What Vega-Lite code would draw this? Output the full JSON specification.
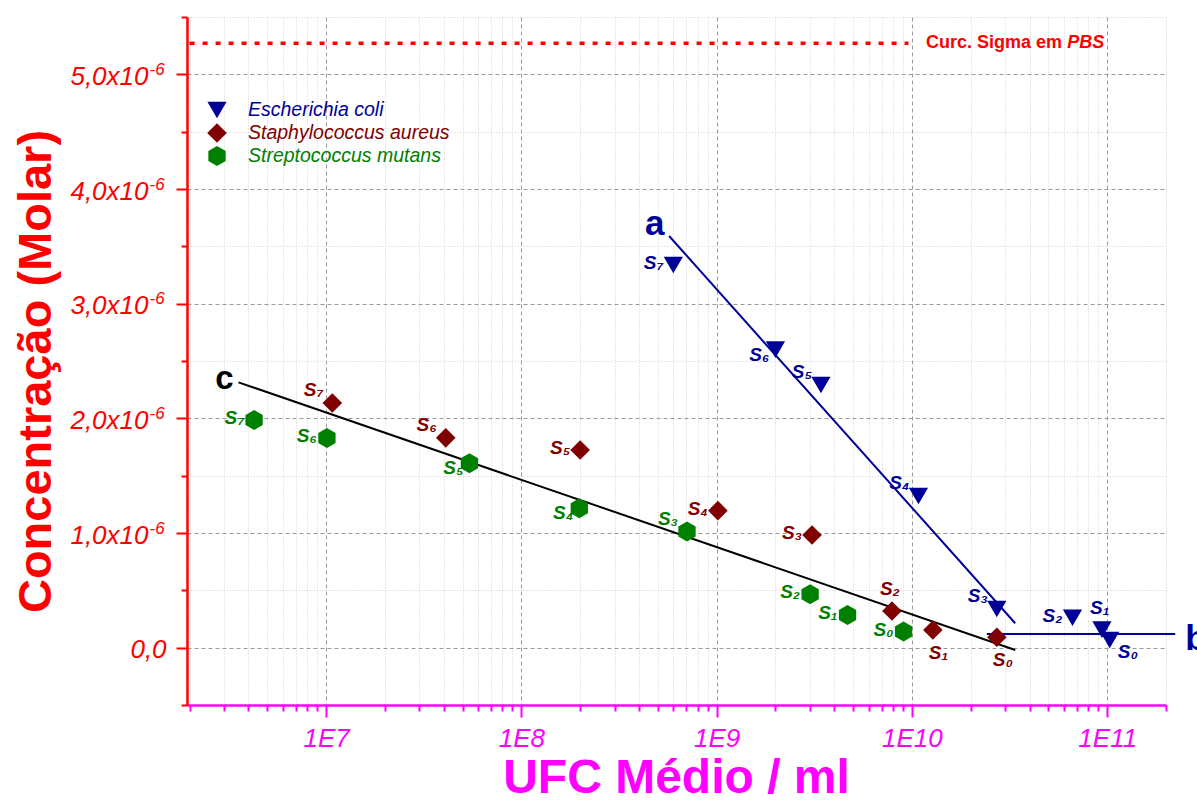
{
  "$schema": "https://vega.github.io/schema/vega-lite/v6.json",
  "width": 979,
  "height": 688,
  "autosize": {"type": "none"},
  "padding": {"left": 187, "top": 17, "right": 31, "bottom": 96},
  "background": "#ffffff",
  "config": {"view": {"stroke": null}, "font": "Liberation Sans"},
  "datasets": {
    "points": [
      {"species": "Escherichia coli", "sample": "S0", "ufc": 1.03e11, "conc": 6.7e-8},
      {"species": "Escherichia coli", "sample": "S1", "ufc": 9.4e10, "conc": 1.57e-7},
      {"species": "Escherichia coli", "sample": "S2", "ufc": 6.64e10, "conc": 2.61e-7},
      {"species": "Escherichia coli", "sample": "S3", "ufc": 2.72e10, "conc": 3.37e-7},
      {"species": "Escherichia coli", "sample": "S4", "ufc": 1.08e10, "conc": 1.323e-6},
      {"species": "Escherichia coli", "sample": "S5", "ufc": 3.42e9, "conc": 2.291e-6},
      {"species": "Escherichia coli", "sample": "S6", "ufc": 2.0e9, "conc": 2.599e-6},
      {"species": "Escherichia coli", "sample": "S7", "ufc": 6.0e8, "conc": 3.337e-6},
      {"species": "Staphylococcus aureus", "sample": "S0", "ufc": 2.72e10, "conc": 9.1e-8},
      {"species": "Staphylococcus aureus", "sample": "S1", "ufc": 1.28e10, "conc": 1.54e-7},
      {"species": "Staphylococcus aureus", "sample": "S2", "ufc": 7.9e9, "conc": 3.2e-7},
      {"species": "Staphylococcus aureus", "sample": "S3", "ufc": 3.08e9, "conc": 9.83e-7},
      {"species": "Staphylococcus aureus", "sample": "S4", "ufc": 1.015e9, "conc": 1.195e-6},
      {"species": "Staphylococcus aureus", "sample": "S5", "ufc": 2.0e8, "conc": 1.724e-6},
      {"species": "Staphylococcus aureus", "sample": "S6", "ufc": 4.1e7, "conc": 1.83e-6},
      {"species": "Staphylococcus aureus", "sample": "S7", "ufc": 1.076e7, "conc": 2.134e-6},
      {"species": "Streptococcus mutans", "sample": "S0", "ufc": 9.06e9, "conc": 1.4e-7},
      {"species": "Streptococcus mutans", "sample": "S1", "ufc": 4.68e9, "conc": 2.85e-7},
      {"species": "Streptococcus mutans", "sample": "S2", "ufc": 3.01e9, "conc": 4.66e-7},
      {"species": "Streptococcus mutans", "sample": "S3", "ufc": 7.05e8, "conc": 1.012e-6},
      {"species": "Streptococcus mutans", "sample": "S4", "ufc": 1.98e8, "conc": 1.216e-6},
      {"species": "Streptococcus mutans", "sample": "S5", "ufc": 5.42e7, "conc": 1.608e-6},
      {"species": "Streptococcus mutans", "sample": "S6", "ufc": 1.01e7, "conc": 1.829e-6},
      {"species": "Streptococcus mutans", "sample": "S7", "ufc": 4.28e6, "conc": 1.986e-6}
    ],
    "fits": [
      {"fit": "a", "ufc": 5.71e8, "conc": 3.59e-6},
      {"fit": "a", "ufc": 3.38e10, "conc": 2.13e-7},
      {"fit": "b", "ufc": 2.42e10, "conc": 1.19e-7},
      {"fit": "b", "ufc": 2.23e11, "conc": 1.19e-7},
      {"fit": "c", "ufc": 3.56e6, "conc": 2.314e-6},
      {"fit": "c", "ufc": 3.38e10, "conc": -2.0e-8}
    ],
    "fitTags": [
      {"fit": "a", "ufc": 4.3e8, "conc": 3.599e-6},
      {"fit": "b", "ufc": 2.51e11, "conc": -2.0e-8},
      {"fit": "c", "ufc": 2.71e6, "conc": 2.256e-6}
    ],
    "sigma": [
      {"ufc": 2.0e6, "conc": 5.27e-6},
      {"ufc": 9.6e9, "conc": 5.27e-6}
    ],
    "sigmaNote": [
      {"part": "Curc. Sigma em", "ufc": 1.18e10, "conc": 5.23e-6},
      {"part": "PBS", "ufc": 6.24e10, "conc": 5.23e-6}
    ]
  },
  "encoding": {
    "x": {"field": "ufc", "type": "quantitative", "scale": {"type": "log", "domain": [1.94e6, 2.0e11]}, "axis": null},
    "y": {"field": "conc", "type": "quantitative", "scale": {"domain": [-5e-7, 5.5e-6], "nice": false, "zero": false}, "axis": null}
  },
  "layer": [
    {
      "data": {"name": "points"},
      "mark": {"type": "point", "opacity": 0},
      "encoding": {
        "x": {
          "field": "ufc", "type": "quantitative",
          "scale": {"type": "log", "domain": [1.94e6, 2.0e11]},
          "axis": {
            "orient": "bottom",
            "values": [1e7, 1e8, 1e9, 1e10, 1e11],
            "labelExpr": "'1E' + round(log(datum.value) / LN10)",
            "grid": true, "gridColor": "#9a9a9a", "gridDash": [4, 3], "gridWidth": 1,
            "domain": true, "domainColor": "#ff00ff", "domainWidth": 2.5,
            "ticks": true, "tickColor": "#ff00ff", "tickSize": 12, "tickWidth": 2,
            "labelColor": "#ff00ff", "labelFont": "Liberation Sans", "labelFontSize": 26, "labelFontStyle": "italic", "labelPadding": 8,
            "title": "UFC Médio / ml", "titleColor": "#ff00ff", "titleFont": "Liberation Sans", "titleFontSize": 48, "titleFontWeight": "bold",
            "titleX": 489, "titleY": 87, "titleAlign": "center", "titleBaseline": "alphabetic"
          }
        },
        "y": {
          "field": "conc", "type": "quantitative",
          "scale": {"domain": [-5e-7, 5.5e-6], "nice": false, "zero": false},
          "axis": {
            "orient": "left",
            "values": [0, 1e-6, 2e-6, 3e-6, 4e-6, 5e-6],
            "labelExpr": "datum.value == 0 ? '0,0' : replace(format(datum.value * 1e6, '.1f'), '.', ',') + 'x10'",
            "labelAlign": {"condition": {"test": "datum.value == 0", "value": "center"}, "value": "right"},
            "labelBaseline": "alphabetic", "labelOffset": 10,
            "labelColor": "#ff0000", "labelFont": "Liberation Sans", "labelFontSize": 26, "labelFontStyle": "italic", "labelPadding": 28,
            "grid": true, "gridColor": "#9a9a9a", "gridDash": [4, 3], "gridWidth": 1,
            "domain": true, "domainColor": "#ff0000", "domainWidth": 2.5,
            "ticks": true, "tickColor": "#ff0000", "tickSize": 11, "tickWidth": 2,
            "title": "Concentração (Molar)", "titleColor": "#ff0000", "titleFont": "Liberation Sans", "titleFontSize": 47, "titleFontWeight": "bold",
            "titleAngle": -90, "titleX": -137, "titleY": 354, "titleAlign": "center", "titleBaseline": "alphabetic"
          }
        }
      }
    },
    {
      "data": {"name": "points"},
      "mark": {"type": "point", "opacity": 0},
      "encoding": {
        "x": {
          "field": "ufc", "type": "quantitative",
          "scale": {"type": "log", "domain": [1.94e6, 2.0e11]},
          "axis": {
            "orient": "bottom",
            "values": [2e6, 3e6, 4e6, 5e6, 6e6, 7e6, 8e6, 9e6, 2e7, 3e7, 4e7, 5e7, 6e7, 7e7, 8e7, 9e7, 2e8, 3e8, 4e8, 5e8, 6e8, 7e8, 8e8, 9e8, 2e9, 3e9, 4e9, 5e9, 6e9, 7e9, 8e9, 9e9, 2e10, 3e10, 4e10, 5e10, 6e10, 7e10, 8e10, 9e10, 2e11],
            "labels": false, "domain": false, "title": null,
            "grid": true, "gridColor": "#cfcfcf", "gridDash": [1, 2], "gridWidth": 1,
            "ticks": true, "tickColor": "#ff00ff", "tickSize": 6, "tickWidth": 2
          }
        },
        "y": {
          "field": "conc", "type": "quantitative",
          "scale": {"domain": [-5e-7, 5.5e-6], "nice": false, "zero": false},
          "axis": {
            "orient": "left",
            "values": [-5e-7, 5e-7, 1.5e-6, 2.5e-6, 3.5e-6, 4.5e-6, 5.5e-6],
            "labels": false, "domain": false, "title": null,
            "grid": true, "gridColor": "#cfcfcf", "gridDash": [1, 2], "gridWidth": 1,
            "ticks": true, "tickColor": "#ff0000", "tickSize": 6, "tickWidth": 2
          }
        }
      }
    },
    {
      "data": {"name": "points"},
      "mark": {"type": "point", "opacity": 0},
      "encoding": {
        "y": {
          "field": "conc", "type": "quantitative",
          "scale": {"domain": [-5e-7, 5.5e-6], "nice": false, "zero": false},
          "axis": {
            "orient": "left",
            "values": [1e-6, 2e-6, 3e-6, 4e-6, 5e-6],
            "labelExpr": "'-6'",
            "labelAlign": "left", "labelBaseline": "alphabetic", "labelOffset": 0,
            "labelColor": "#ff0000", "labelFont": "Liberation Sans", "labelFontSize": 17, "labelFontStyle": "italic", "labelPadding": 38,
            "grid": false, "domain": false, "ticks": false, "title": null
          }
        }
      }
    },
    {
      "data": {"name": "sigma"},
      "mark": {"type": "line", "color": "#ff0000", "strokeWidth": 3.5, "strokeDash": [5, 8]},
      "encoding": {}
    },
    {
      "data": {"name": "sigmaNote"},
      "transform": [{"filter": "datum.part != 'PBS'"}],
      "mark": {"type": "text", "align": "left", "baseline": "alphabetic", "font": "Liberation Sans", "fontSize": 18, "fontWeight": "bold", "color": "#ff0000"},
      "encoding": {"text": {"field": "part"}}
    },
    {
      "data": {"name": "sigmaNote"},
      "transform": [{"filter": "datum.part == 'PBS'"}],
      "mark": {"type": "text", "align": "left", "baseline": "alphabetic", "font": "Liberation Sans", "fontSize": 18, "fontWeight": "bold", "fontStyle": "italic", "color": "#ff0000"},
      "encoding": {"text": {"field": "part"}}
    },
    {
      "data": {"name": "fits"},
      "transform": [{"filter": "datum.fit != 'c'"}],
      "mark": {"type": "line", "color": "#000099", "strokeWidth": 2, "clip": false},
      "encoding": {"detail": {"field": "fit"}}
    },
    {
      "data": {"name": "fits"},
      "transform": [{"filter": "datum.fit == 'c'"}],
      "mark": {"type": "line", "color": "#000000", "strokeWidth": 2, "clip": false},
      "encoding": {"detail": {"field": "fit"}}
    },
    {
      "data": {"name": "fitTags"},
      "transform": [{"filter": "datum.fit != 'c'"}],
      "mark": {"type": "text", "align": "left", "baseline": "alphabetic", "font": "Liberation Sans", "fontSize": 35, "fontWeight": "bold", "color": "#000099", "clip": false},
      "encoding": {"text": {"field": "fit"}}
    },
    {
      "data": {"name": "fitTags"},
      "transform": [{"filter": "datum.fit == 'c'"}],
      "mark": {"type": "text", "align": "left", "baseline": "alphabetic", "font": "Liberation Sans", "fontSize": 33, "fontWeight": "bold", "color": "#000000"},
      "encoding": {"text": {"field": "fit"}}
    },
    {
      "data": {"name": "points"},
      "mark": {"type": "point", "filled": true, "opacity": 1, "strokeWidth": 0},
      "encoding": {
        "color": {
          "field": "species", "type": "nominal",
          "scale": {"domain": ["Escherichia coli", "Staphylococcus aureus", "Streptococcus mutans"], "range": ["#000099", "#800000", "#008000"]},
          "legend": {
            "orient": "none", "legendX": 20, "legendY": 83, "title": null, "padding": 0,
            "labelFont": "Liberation Sans", "labelFontSize": 19.5, "labelFontStyle": "italic", "labelOffset": 21, "labelLimit": 500,
            "labelColor": {"expr": "scale('color', datum.value)"},
            "symbolSize": 330, "symbolStrokeWidth": 0, "rowPadding": 3
          }
        },
        "shape": {
          "field": "species", "type": "nominal",
          "scale": {"domain": ["Escherichia coli", "Staphylococcus aureus", "Streptococcus mutans"], "range": ["triangle-down", "diamond", "M0,-1L0.866,-0.5L0.866,0.5L0,1L-0.866,0.5L-0.866,-0.5Z"]},
          "legend": {
            "orient": "none", "legendX": 20, "legendY": 83, "title": null, "padding": 0,
            "labelFont": "Liberation Sans", "labelFontSize": 19.5, "labelFontStyle": "italic", "labelOffset": 21, "labelLimit": 500,
            "labelColor": {"expr": "scale('color', datum.value)"},
            "symbolSize": 330, "symbolStrokeWidth": 0, "rowPadding": 3
          }
        },
        "size": {
          "field": "species", "type": "ordinal",
          "scale": {"domain": ["Escherichia coli", "Staphylococcus aureus", "Streptococcus mutans"], "range": [370, 400, 280]},
          "legend": null
        }
      }
    },
    {
      "data": {"name": "points"},
      "transform": [
        {"calculate": "substring(datum.species, 0, 4) + datum.sample", "as": "key"},
        {"calculate": "'S' + ['₀','₁','₂','₃','₄','₅','₆','₇'][toNumber(substring(datum.sample, 1))]", "as": "lab"},
        {"filter": {"field": "key", "oneOf": ["EschS7", "EschS2", "StapS5", "StapS4", "StapS3", "StreS7", "StreS6", "StreS2", "StreS1", "StreS0"]}}
      ],
      "mark": {"type": "text", "align": "right", "baseline": "alphabetic", "dx": -10, "dy": 4, "font": "Liberation Sans", "fontSize": 19, "fontWeight": "bold", "fontStyle": "italic"},
      "encoding": {"text": {"field": "lab"}, "color": {"field": "species", "type": "nominal", "legend": null}}
    },
    {
      "data": {"name": "points"},
      "transform": [
        {"calculate": "substring(datum.species, 0, 4) + datum.sample", "as": "key"},
        {"calculate": "'S' + ['₀','₁','₂','₃','₄','₅','₆','₇'][toNumber(substring(datum.sample, 1))]", "as": "lab"},
        {"filter": {"field": "key", "oneOf": ["EschS5", "EschS4", "EschS3", "StapS7", "StapS6", "StreS3"]}}
      ],
      "mark": {"type": "text", "align": "right", "baseline": "alphabetic", "dx": -9, "dy": -7, "font": "Liberation Sans", "fontSize": 19, "fontWeight": "bold", "fontStyle": "italic"},
      "encoding": {"text": {"field": "lab"}, "color": {"field": "species", "type": "nominal", "legend": null}}
    },
    {
      "data": {"name": "points"},
      "transform": [
        {"calculate": "substring(datum.species, 0, 4) + datum.sample", "as": "key"},
        {"calculate": "'S' + ['₀','₁','₂','₃','₄','₅','₆','₇'][toNumber(substring(datum.sample, 1))]", "as": "lab"},
        {"filter": {"field": "key", "oneOf": ["EschS6", "StreS5", "StreS4"]}}
      ],
      "mark": {"type": "text", "align": "right", "baseline": "alphabetic", "dx": -6, "dy": 11, "font": "Liberation Sans", "fontSize": 19, "fontWeight": "bold", "fontStyle": "italic"},
      "encoding": {"text": {"field": "lab"}, "color": {"field": "species", "type": "nominal", "legend": null}}
    },
    {
      "data": {"name": "points"},
      "transform": [
        {"calculate": "substring(datum.species, 0, 4) + datum.sample", "as": "key"},
        {"calculate": "'S' + ['₀','₁','₂','₃','₄','₅','₆','₇'][toNumber(substring(datum.sample, 1))]", "as": "lab"},
        {"filter": {"field": "key", "oneOf": ["EschS1", "StapS2"]}}
      ],
      "mark": {"type": "text", "align": "left", "baseline": "alphabetic", "dx": -12, "dy": -16, "font": "Liberation Sans", "fontSize": 19, "fontWeight": "bold", "fontStyle": "italic"},
      "encoding": {"text": {"field": "lab"}, "color": {"field": "species", "type": "nominal", "legend": null}}
    },
    {
      "data": {"name": "points"},
      "transform": [
        {"calculate": "substring(datum.species, 0, 4) + datum.sample", "as": "key"},
        {"calculate": "'S' + ['₀','₁','₂','₃','₄','₅','₆','₇'][toNumber(substring(datum.sample, 1))]", "as": "lab"},
        {"filter": {"field": "key", "oneOf": ["StapS1", "StapS0"]}}
      ],
      "mark": {"type": "text", "align": "left", "baseline": "alphabetic", "dx": -4, "dy": 29, "font": "Liberation Sans", "fontSize": 19, "fontWeight": "bold", "fontStyle": "italic"},
      "encoding": {"text": {"field": "lab"}, "color": {"field": "species", "type": "nominal", "legend": null}}
    },
    {
      "data": {"name": "points"},
      "transform": [
        {"calculate": "substring(datum.species, 0, 4) + datum.sample", "as": "key"},
        {"calculate": "'S' + ['₀','₁','₂','₃','₄','₅','₆','₇'][toNumber(substring(datum.sample, 1))]", "as": "lab"},
        {"filter": {"field": "key", "oneOf": ["EschS0"]}}
      ],
      "mark": {"type": "text", "align": "left", "baseline": "alphabetic", "dx": 8, "dy": 18, "font": "Liberation Sans", "fontSize": 19, "fontWeight": "bold", "fontStyle": "italic"},
      "encoding": {"text": {"field": "lab"}, "color": {"field": "species", "type": "nominal", "legend": null}}
    }
  ],
  "resolve": {"axis": {"x": "independent", "y": "independent"}}
}
